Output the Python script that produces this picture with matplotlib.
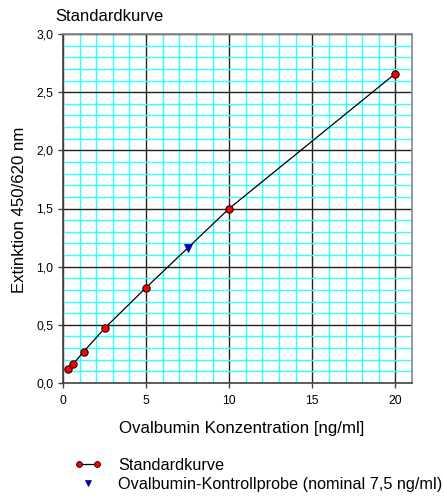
import matplotlib
matplotlib.use("Agg")
import matplotlib.pyplot as plt
from matplotlib.ticker import MultipleLocator, FuncFormatter
from matplotlib.lines import Line2D
from matplotlib.legend_handler import HandlerLine2D

plt.rcParams['font.family'] = ['Liberation Sans', 'DejaVu Sans']

std_conc = [0.3125, 0.625, 1.25, 2.5, 5, 10, 20]
std_ext = [0.12, 0.165, 0.27, 0.47, 0.82, 1.50, 2.66]
ctrl_conc = [7.5]
ctrl_ext = [1.16]

W, H = 444, 497
fig = plt.figure(figsize=(W / 100, H / 100), dpi=100)
ax = fig.add_axes([63 / W, 1 - 383 / H, (412 - 63) / W, (383 - 34) / H])

ax.set_xlim(0, 21)
ax.set_ylim(0, 3.0)
ax.xaxis.set_major_locator(MultipleLocator(5))
ax.xaxis.set_minor_locator(MultipleLocator(1))
ax.yaxis.set_major_locator(MultipleLocator(0.5))
ax.yaxis.set_minor_locator(MultipleLocator(0.1))
ax.yaxis.set_major_formatter(FuncFormatter(lambda v, p: f"{v:.1f}".replace('.', ',')))

ax.grid(which='minor', color='#33FFFF', linewidth=1.0, zorder=0)
ax.grid(which='major', color='#222222', linewidth=1.0, zorder=0.5)
ax.set_axisbelow(True)
ax.tick_params(which='minor', length=0)
ax.tick_params(which='major', length=3.5, width=1, color='#444444', labelsize=8.7,
               direction='out', pad=3.5)
ax.tick_params(axis='x', pad=5)

for s in ['left', 'bottom']:
    ax.spines[s].set_color('#444444')
    ax.spines[s].set_linewidth(1.2)
for s in ['top', 'right']:
    ax.spines[s].set_color('#888888')
    ax.spines[s].set_linewidth(1.2)

ax.plot(std_conc, std_ext, color='black', linewidth=0.9, marker='o', markersize=5.3,
        markerfacecolor='#FF0000', markeredgecolor='black', markeredgewidth=0.7, zorder=3,
        clip_on=False)
ax.plot(ctrl_conc, ctrl_ext, linestyle='none', marker='v', markersize=5.5,
        markerfacecolor='#0000CC', markeredgecolor='#000066', markeredgewidth=0.5, zorder=4)

fig.text(241.5 / W, 1 - 429 / H, 'Ovalbumin Konzentration [ng/ml]', fontsize=12.2,
         ha='center', va='center')
fig.text(19 / W, 1 - 210 / H, 'Extinktion 450/620 nm', fontsize=12.1,
         ha='center', va='center', rotation=90)
fig.text(55 / W, 1 - 16.5 / H, 'Standardkurve', fontsize=11.9, ha='left', va='center')

h1 = Line2D([], [], color='black', linewidth=0.9, marker='o', markersize=4.2,
            markerfacecolor='#FF0000', markeredgecolor='black', markeredgewidth=0.6)
h2 = Line2D([], [], linestyle='none', marker='v', markersize=4.8,
            markerfacecolor='#0000CC', markeredgecolor='#000066', markeredgewidth=0.5)
fig.legend([h1, h2], ['Standardkurve', 'Ovalbumin-Kontrollprobe (nominal 7,5 ng/ml)'],
           loc='upper left', bbox_to_anchor=(74 / W, 1 - 458 / H), frameon=False,
           fontsize=11.7, numpoints=2, handlelength=1.72, handletextpad=1.0,
           labelspacing=0.22, borderpad=0, borderaxespad=0,
           handler_map={h2: HandlerLine2D(numpoints=1)})

fig.savefig('out.png', dpi=100)
